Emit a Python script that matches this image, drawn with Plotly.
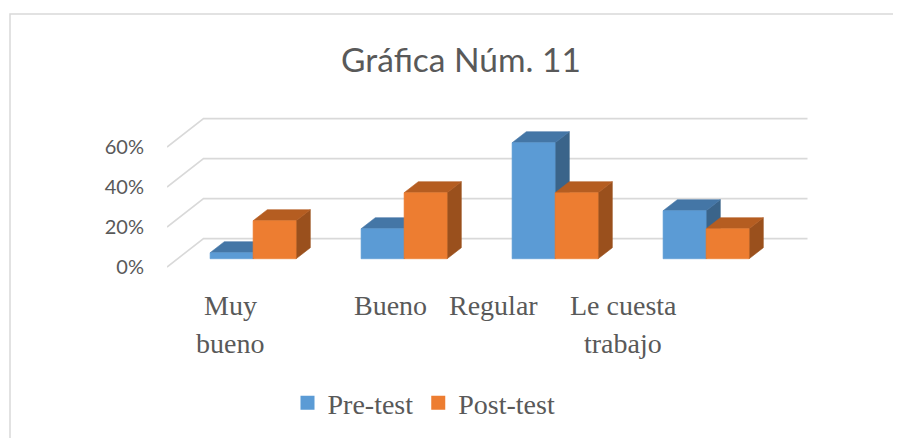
import plotly.graph_objects as go

# ---- data ----
categories = ["Muy bueno", "Bueno", "Regular", "Le cuesta trabajo"]
series_names = ["Pre-test", "Post-test"]
pre_test = [3, 15, 58, 24]
post_test = [19, 33, 33, 15]
tick_values = [0, 20, 40, 60]
tick_labels = ["0%", "20%", "40%", "60%"]
title_text = "Gráfica Núm. 11"

# ---- style ----
W, H = 901, 438
OFF = 8                      # page body offset compensation
ML = 167 - OFF
PW = W - ML
front_colors = ["#5B9BD5", "#ED7D31"]
top_colors = ["#4476A6", "#B55D21"]
side_colors = ["#3A648A", "#9A501D"]
grid_color = "#D9D9D9"
text_color = "#595959"

X_PX = 151.0          # px per category unit
Y_PX = 2.0            # px per percent
DX = 36.5 / X_PX      # depth offset (x units)
DY = 28.4 / Y_PX      # depth offset (y units)
F0, F1 = 0.29, 0.68   # bar depth span (fraction of floor depth)
BW = 43.0 / X_PX      # bar width in category units
Y0 = 267 - OFF        # pixel row of front-plane 0%

x_range = [-0.5, -0.5 + PW / X_PX]
y_range = [-(H - Y0) / Y_PX, Y0 / Y_PX]

fig = go.Figure()

# back-wall gridlines with side-wall diagonals
for v in tick_values:
    fig.add_trace(go.Scatter(
        x=[-0.5, -0.5 + DX, len(categories) - 0.5 + DX],
        y=[v, v + DY, v + DY],
        mode="lines", line=dict(color=grid_color, width=1.6),
        hoverinfo="skip", showlegend=False))


def poly(xs, ys, color):
    fig.add_trace(go.Scatter(
        x=xs + [xs[0]], y=ys + [ys[0]], mode="lines", fill="toself",
        fillcolor=color, line=dict(color=color, width=0.6),
        hoverinfo="skip", showlegend=False))


d = (F1 - F0) * DX
e = (F1 - F0) * DY
yb = F0 * DY
for i in range(len(categories)):
    for s, vals in enumerate([pre_test, post_test]):
        v = vals[i]
        xl = i - BW + s * BW + F0 * DX
        xr = xl + BW
        yt = yb + v
        poly([xr, xr + d, xr + d, xr], [yb, yb + e, yt + e, yt], side_colors[s])
        poly([xl, xr, xr + d, xl + d], [yt, yt, yt + e, yt + e], top_colors[s])
        poly([xl, xr, xr, xl], [yb, yb, yt, yt], front_colors[s])

# legend entries
for s, name in enumerate(series_names):
    fig.add_trace(go.Scatter(x=[None], y=[None], name=name, mode="markers",
                             marker=dict(symbol="square", size=14,
                                         color=front_colors[s])))

# category labels (Excel-style wrapped labels)
label_lines = [["Muy", "bueno"], ["Bueno"], ["Regular"], ["Le cuesta", "trabajo"]]
label_px = [230, 390, 493, 623]
annotations = []
for lines, px in zip(label_lines, label_px):
    for k, line in enumerate(lines):
        annotations.append(dict(
            x=(px - 242.5) / X_PX, y=(267 - 305 - 38 * k) / Y_PX,
            xref="x", yref="y", text=line, showarrow=False,
            xanchor="center", yanchor="middle",
            font=dict(family="Liberation Serif", size=28, color=text_color)))

fig.update_layout(
    width=W, height=H,
    margin=dict(l=ML, r=0, t=0, b=0),
    paper_bgcolor="white", plot_bgcolor="rgba(0,0,0,0)",
    title=dict(text=title_text, x=(461 - OFF) / W, xanchor="center",
               xref="container",
               y=1 - (60 - OFF) / H, yanchor="middle",
               font=dict(family="Lato", size=33.5, color=text_color)),
    xaxis=dict(range=x_range, visible=False, fixedrange=True),
    yaxis=dict(range=y_range, tickvals=tick_values, ticktext=tick_labels,
               showgrid=False, zeroline=False, showline=False, ticks="",
               ticklabelstandoff=22,
               tickfont=dict(family="Lato", size=20, color=text_color)),
    showlegend=True,
    legend=dict(orientation="h", x=(424 - OFF - ML) / PW, xanchor="center",
                y=1 - (403 - OFF) / H, yanchor="middle",
                font=dict(family="Liberation Serif", size=28, color=text_color),
                itemwidth=30, bgcolor="rgba(0,0,0,0)"),
    annotations=annotations,
    shapes=[dict(type="rect", xref="paper", yref="paper",
                 x0=(10 - OFF - ML) / PW, x1=1.05,
                 y0=-0.05, y1=1 - (14 - OFF) / H,
                 line=dict(color=grid_color, width=1.5), layer="below")],
)

fig.write_html("out.html")
